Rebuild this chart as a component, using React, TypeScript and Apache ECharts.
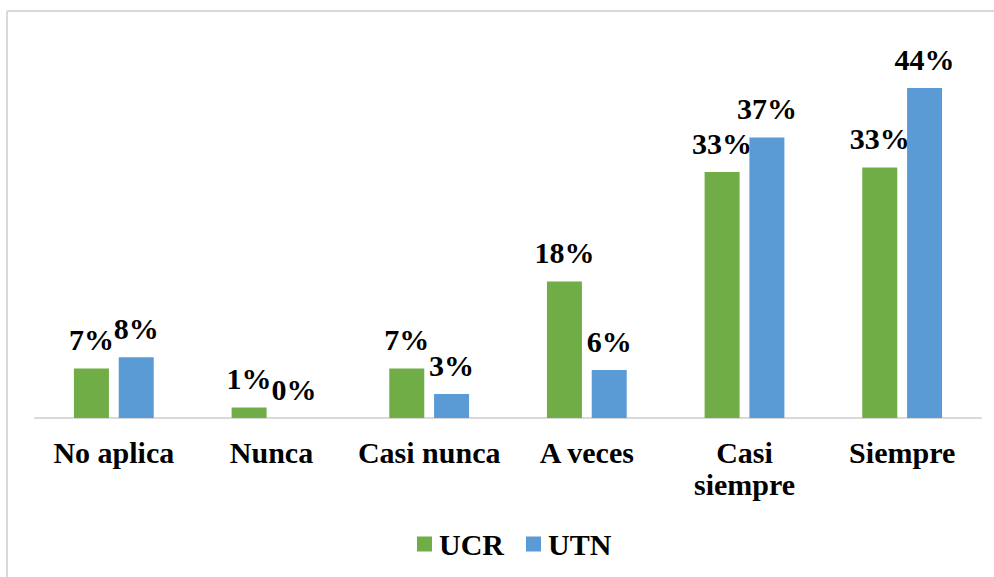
import React, { useEffect, useRef } from "react";
import * as echarts from "echarts";

const categories = ["No aplica", "Nunca", "Casi nunca", "A veces", "Casi\nsiempre", "Siempre"];
const seriesNames = ["UCR", "UTN"];
const ucrValues = [6.6, 1.4, 6.6, 18.2, 32.8, 33.4];
const utnValues = [8.1, 0, 3.2, 6.4, 37.4, 44.0];
const colors = ["#70AD47", "#5B9BD5"];

const FONT = "Times New Roman, Liberation Serif, DejaVu Serif, serif";

export default function App() {
  const ref = useRef<HTMLDivElement>(null);
  useEffect(() => {
    if (!ref.current) return;
    const chart = echarts.init(ref.current, undefined, { renderer: "svg" });
    const label = {
      show: true,
      position: "top" as const,
      distance: 14,
      fontFamily: FONT,
      fontWeight: "bold" as const,
      fontSize: 30,
      color: "#000",
      formatter: (p: any) => Math.round(p.value) + "%",
    };
    chart.setOption({
      animation: false,
      backgroundColor: "#fff",
      textStyle: { fontFamily: FONT },
      graphic: [
        { type: "line", shape: { x1: 7, y1: 11, x2: 994, y2: 11 }, style: { stroke: "#D9D9D9", lineWidth: 2 }, silent: true },
        { type: "line", shape: { x1: 7, y1: 11, x2: 7, y2: 577 }, style: { stroke: "#D9D9D9", lineWidth: 2 }, silent: true },
      ],
      grid: { left: 35, right: 13, top: 43, bottom: 159 },
      legend: {
        data: seriesNames,
        left: 412,
        top: 524,
        itemWidth: 15,
        itemHeight: 15,
        itemGap: 22,
        icon: "rect",
        textStyle: { fontFamily: FONT, fontWeight: "bold", fontSize: 30, color: "#000", padding: [0, 0, 0, 2] },
      },
      xAxis: {
        type: "category",
        data: categories,
        axisLine: { lineStyle: { color: "#D9D9D9", width: 2 } },
        axisTick: { show: false },
        axisLabel: {
          interval: 0,
          margin: 18,
          fontFamily: FONT,
          fontWeight: "bold",
          fontSize: 30,
          lineHeight: 32,
          color: "#000",
        },
      },
      yAxis: {
        type: "value",
        min: 0,
        max: 50,
        show: false,
        splitLine: { show: false },
      },
      series: [
        { name: seriesNames[0], type: "bar", data: ucrValues, barWidth: 35, barGap: "28%", itemStyle: { color: colors[0] }, label },
        { name: seriesNames[1], type: "bar", data: utnValues, barWidth: 35, barGap: "28%", itemStyle: { color: colors[1] }, label },
      ],
    });
    return () => chart.dispose();
  }, []);
  return <div ref={ref} style={{ position: "absolute", left: 0, top: 0, width: 994, height: 577 }} />;
}
